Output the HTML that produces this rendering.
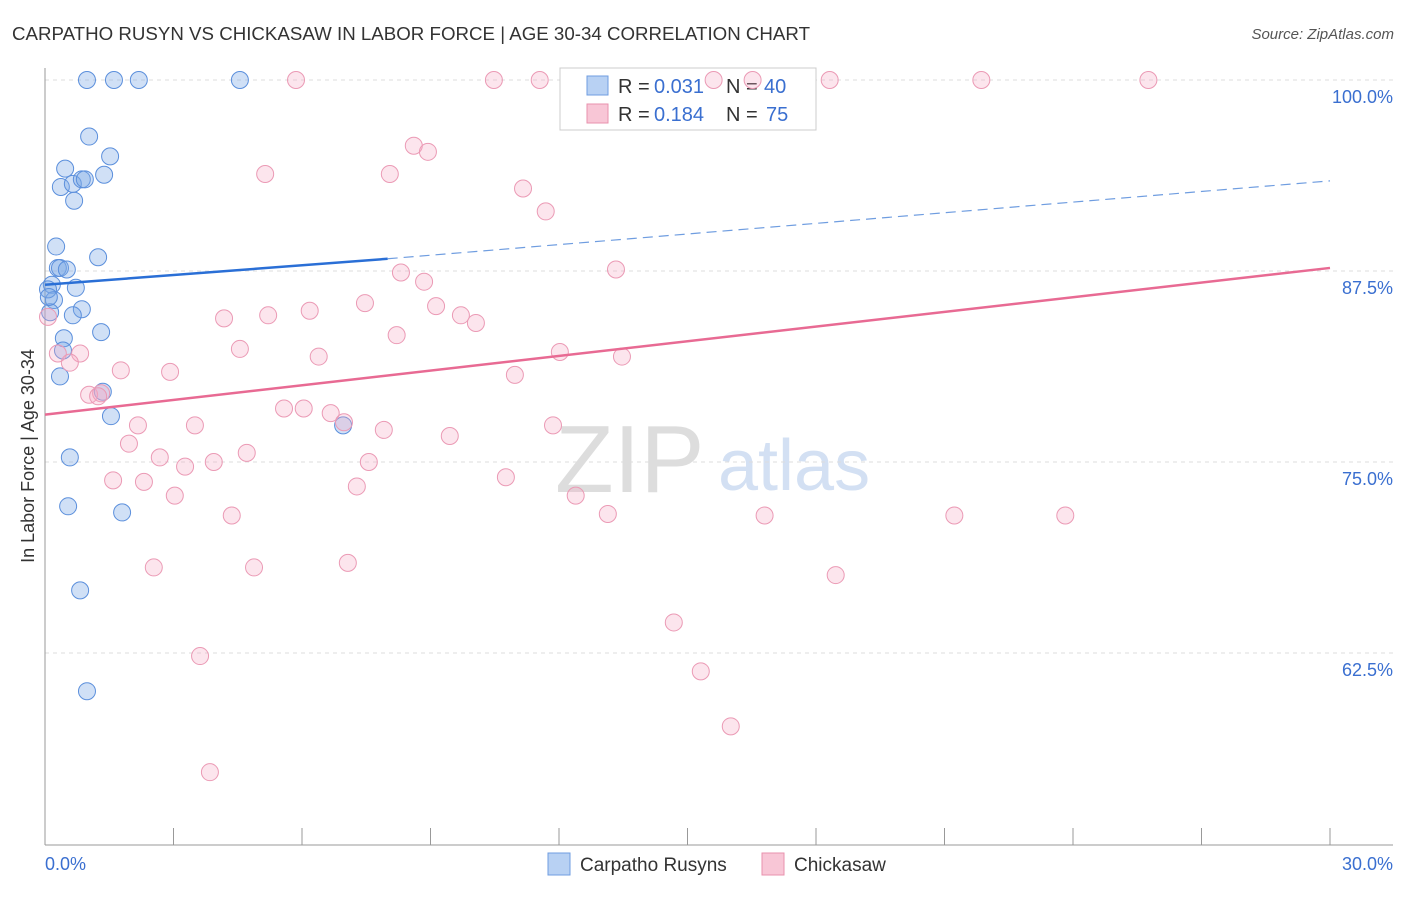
<!DOCTYPE html>
<html><head><meta charset="utf-8"><style>
body{margin:0;background:#fff;font-family:"Liberation Sans",sans-serif;}
svg text{font-family:"Liberation Sans",sans-serif;}
</style></head><body>
<svg width="1406" height="892" id="chart">
<text x="12" y="40" font-size="18" fill="#333" textLength="798" lengthAdjust="spacingAndGlyphs">CARPATHO RUSYN VS CHICKASAW IN LABOR FORCE | AGE 30-34 CORRELATION CHART</text>
<text x="1394" y="39" font-size="15" fill="#555" font-style="italic" text-anchor="end">Source: ZipAtlas.com</text>
<text x="555" y="492" font-size="96" fill="#ddd" font-family="Liberation Serif">ZIP</text>
<text x="718" y="490" font-size="72" fill="#d3e0f3">atlas</text>
<text transform="translate(34,456) rotate(-90)" font-size="18" fill="#333" text-anchor="middle">In Labor Force | Age 30-34</text>
<g id="grid"></g>
<g>
<rect x="560" y="68" width="256" height="62" fill="#fff" stroke="#ccc"/>
<rect x="587" y="76" width="21" height="19" fill="#b8d1f3" stroke="#6f9de0"/>
<rect x="587" y="104" width="21" height="19" fill="#f8c6d6" stroke="#e892ad"/>
<text x="618" y="93" font-size="20" fill="#333">R =</text>
<text x="654" y="93" font-size="20" fill="#3a6fd0">0.031</text>
<text x="726" y="93" font-size="20" fill="#333">N =</text>
<text x="764" y="93" font-size="20" fill="#3a6fd0">40</text>
<text x="618" y="121" font-size="20" fill="#333">R =</text>
<text x="654" y="121" font-size="20" fill="#3a6fd0">0.184</text>
<text x="726" y="121" font-size="20" fill="#333">N =</text>
<text x="766" y="121" font-size="20" fill="#3a6fd0">75</text>
</g>
<g id="marks"></g>
<text x="45" y="870" font-size="18" fill="#3a6fd0">0.0%</text>
<text x="1393" y="870" font-size="18" fill="#3a6fd0" text-anchor="end">30.0%</text>
<rect x="548" y="853" width="22" height="22" fill="#b8d1f3" stroke="#6f9de0"/>
<text x="580" y="871" font-size="19" fill="#333">Carpatho Rusyns</text>
<rect x="762" y="853" width="22" height="22" fill="#f8c6d6" stroke="#e892ad"/>
<text x="794" y="871" font-size="19" fill="#333">Chickasaw</text>
</svg>
<script>
const yTicks=[100,87.5,75,62.5];
const xTickCount=10;
const blueX=[0.98,1.61,2.19,4.55,1.03,1.52,0.47,1.38,0.37,0.65,0.86,0.93,0.68,0.26,1.24,0.30,0.35,0.51,0.16,0.72,0.21,0.86,0.12,0.65,1.31,0.44,0.42,0.35,1.35,1.54,6.96,0.58,0.54,1.80,0.82,0.98,0.07,0.09];
const blueY=[100,100,100,100,96.3,95.0,94.2,93.8,93.0,93.2,93.5,93.5,92.1,89.1,88.4,87.7,87.7,87.6,86.6,86.4,85.6,85.0,84.8,84.6,83.5,83.1,82.3,80.6,79.6,78.0,77.4,75.3,72.1,71.7,66.6,60.0,86.3,85.8];
const pinkX=[5.86,10.48,11.55,15.61,16.52,18.32,21.86,25.76,8.61,8.94,5.14,8.05,11.16,11.69,13.33,8.31,8.85,7.47,9.13,6.18,4.18,5.21,9.71,10.06,0.07,8.21,4.55,6.39,0.82,0.30,0.58,12.02,13.47,1.77,2.92,10.97,1.03,1.31,1.24,5.58,6.04,6.67,6.98,2.17,3.50,7.91,11.86,9.45,1.96,2.68,3.27,3.94,4.71,7.56,1.59,2.31,10.76,7.28,3.03,12.39,13.14,4.36,16.80,21.23,23.82,2.54,4.88,7.07,18.46,14.68,3.62,15.31,16.01,3.85];
const pinkY=[100,100,100,100,100,100,100,100,95.7,95.3,93.85,93.85,92.9,91.4,87.6,87.4,86.8,85.4,85.2,84.9,84.4,84.6,84.6,84.1,84.5,83.3,82.4,81.9,82.1,82.1,81.5,82.2,81.9,81.0,80.9,80.7,79.4,79.5,79.3,78.5,78.5,78.2,77.6,77.4,77.4,77.1,77.4,76.7,76.2,75.3,74.7,75.0,75.6,75.0,73.8,73.7,74.0,73.4,72.8,72.8,71.6,71.5,71.5,71.5,71.5,68.1,68.1,68.4,67.6,64.5,62.3,61.3,57.7,54.7];
const blueTrend=[86.6,88.3,93.4];
const pinkTrend=[78.1,87.7];
const X=v=>45+v/30*1285, Y=v=>80+(100-v)*15.28;
const NS='http://www.w3.org/2000/svg';
const g=document.getElementById('grid'), m=document.getElementById('marks');
function el(t,a,p){const e=document.createElementNS(NS,t);for(const k in a)e.setAttribute(k,a[k]);p.appendChild(e);return e;}
yTicks.forEach(v=>{
 const l=el('line',{x1:45,x2:1393,y1:Y(v),y2:Y(v),stroke:'#ddd','stroke-dasharray':'4 4'},g);
 
 
 const t=el('text',{x:1393,y:Y(v)+23,'font-size':18,fill:'#3a6fd0','text-anchor':'end'},g);t.textContent=v.toFixed(1)+'%';
 
 
});
const ax=el('line',{x1:45,x2:1393,y1:845,y2:845,stroke:'#999'},g);


const ay=el('line',{x1:45,x2:45,y1:68,y2:845,stroke:'#999'},g);


for(let i=0;i<=xTickCount;i++){const x=X(i*3);const t=el('line',{x1:x,x2:x,y1:828,y2:845,stroke:'#999'},g);
 
 }
blueX.forEach((x,i)=>{const c=el('circle',{cx:X(x),cy:Y(blueY[i]),r:8.5,fill:'rgba(120,165,230,0.35)',stroke:'#5b8fdc','stroke-width':1},m);
 
 });
pinkX.forEach((x,i)=>{const c=el('circle',{cx:X(x),cy:Y(pinkY[i]),r:8.5,fill:'rgba(244,170,195,0.3)',stroke:'#eb9ab5','stroke-width':1},m);
 
 });
const b1=el('line',{x1:X(0),y1:Y(blueTrend[0]),x2:X(8),y2:Y(blueTrend[1]),stroke:'#2a6fd6','stroke-width':2.5},m);


const b2=el('line',{x1:X(8),y1:Y(blueTrend[1]),x2:X(30),y2:Y(blueTrend[2]),stroke:'#6f9de0','stroke-width':1.2,'stroke-dasharray':'10 6'},m);


const p1=el('line',{x1:X(0),y1:Y(pinkTrend[0]),x2:X(30),y2:Y(pinkTrend[1]),stroke:'#e86a93','stroke-width':2.5},m);


</script>
</body></html>
